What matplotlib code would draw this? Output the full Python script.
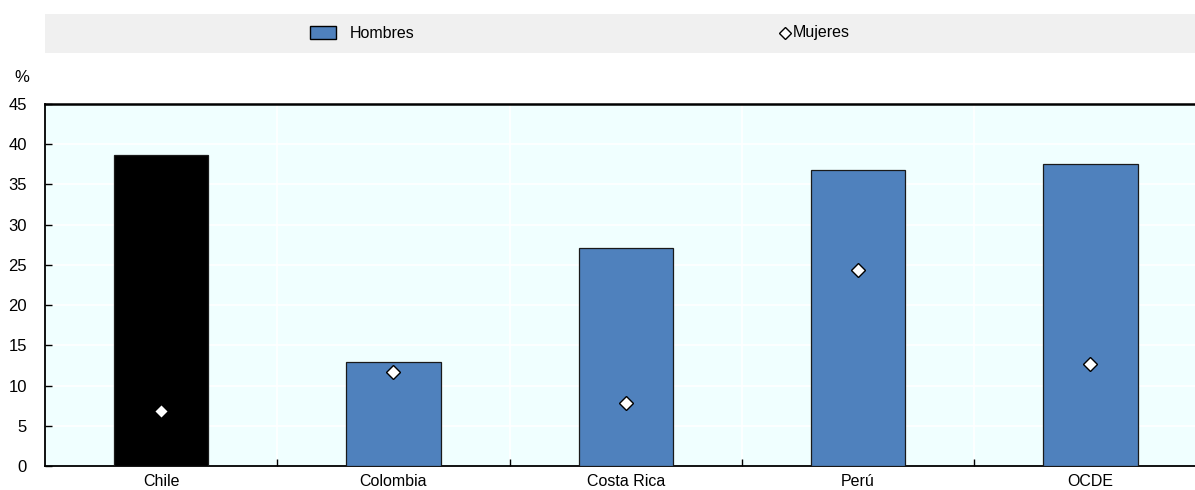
import matplotlib
matplotlib.use("Agg")
import matplotlib.pyplot as plt
from matplotlib.patches import Rectangle
from matplotlib.lines import Line2D
from matplotlib import font_manager

names = {f.name for f in font_manager.fontManager.ttflist}
fam = ["Liberation Sans Narrow"] if "Liberation Sans Narrow" in names else ["Liberation Sans"]
plt.rcParams['font.family'] = fam + ["DejaVu Sans"]

categories = ["Chile", "Colombia", "Costa Rica", "Perú", "OCDE"]
hombres = [38.7, 12.9, 27.1, 36.8, 37.6]
mujeres = [6.8, 11.7, 7.8, 24.4, 12.7]
yticks = [0, 5, 10, 15, 20, 25, 30, 35, 40, 45]

W, H = 1195, 490
fig = plt.figure(figsize=(W/100, H/100), dpi=100)
ax = fig.add_axes([45/W, 24/H, 1150/W, 362/H])
ax.set_facecolor("#F0FFFF")

x = list(range(len(categories)))
colors = ["#000000"] + ["#4F81BD"] * (len(categories) - 1)
ax.bar(x, hombres, width=0.405, color=colors, edgecolor="#1a1a1a", linewidth=0.9, zorder=3)
ax.plot(x, mujeres, linestyle="none", marker="D", markersize=7.5,
        markerfacecolor="white", markeredgecolor="black", markeredgewidth=1.0, zorder=4)

ax.set_xlim(-0.5, 4.45)
ax.set_ylim(0, 45)
ax.set_yticks(yticks)
ax.set_yticklabels([str(v) for v in yticks], fontsize=12)
ax.set_xticks(x)
ax.set_xticklabels(categories, fontsize=11.5)
ax.tick_params(axis='x', length=0, pad=6)
ax.tick_params(axis='y', direction='in', length=5, width=1, pad=13)
ax.set_xticks([i + 0.5 for i in range(len(categories) - 1)], minor=True)
ax.tick_params(axis='x', which='minor', direction='in', length=5, width=1)

for yv in yticks[1:-1]:
    ax.axhline(yv, color="white", linewidth=1.2, zorder=1)
for i in range(len(categories) - 1):
    ax.axvline(i + 0.5, color="white", linewidth=1.2, zorder=1)

ax.spines['right'].set_visible(False)
for s in ['left', 'bottom', 'top']:
    ax.spines[s].set_color("black")
    ax.spines[s].set_linewidth(1.3)
ax.spines['top'].set_linewidth(1.8)

fig.text(22/W, 1 - 78/H, "%", fontsize=12, ha='center', va='center')

# legend band
fig.patches.append(Rectangle((45/W, 1 - 53/H), 1150/W, 39/H, transform=fig.transFigure,
                             facecolor="#F0F0F0", edgecolor="none", zorder=0))
fig.patches.append(Rectangle((310/W, 1 - 39/H), 26/W, 13/H, transform=fig.transFigure,
                             facecolor="#4F81BD", edgecolor="black", linewidth=1.0, zorder=1))
fig.text(350/W, 1 - 33/H, "Hombres", fontsize=11.5, ha='left', va='center')
fig.lines.append(Line2D([785/W], [1 - 33/H], transform=fig.transFigure, marker="D", markersize=6,
                        markerfacecolor="white", markeredgecolor="black", markeredgewidth=1.0,
                        linestyle="none"))
fig.text(793/W, 1 - 33/H, "Mujeres", fontsize=11.5, ha='left', va='center')

fig.savefig("out.png", dpi=100)
